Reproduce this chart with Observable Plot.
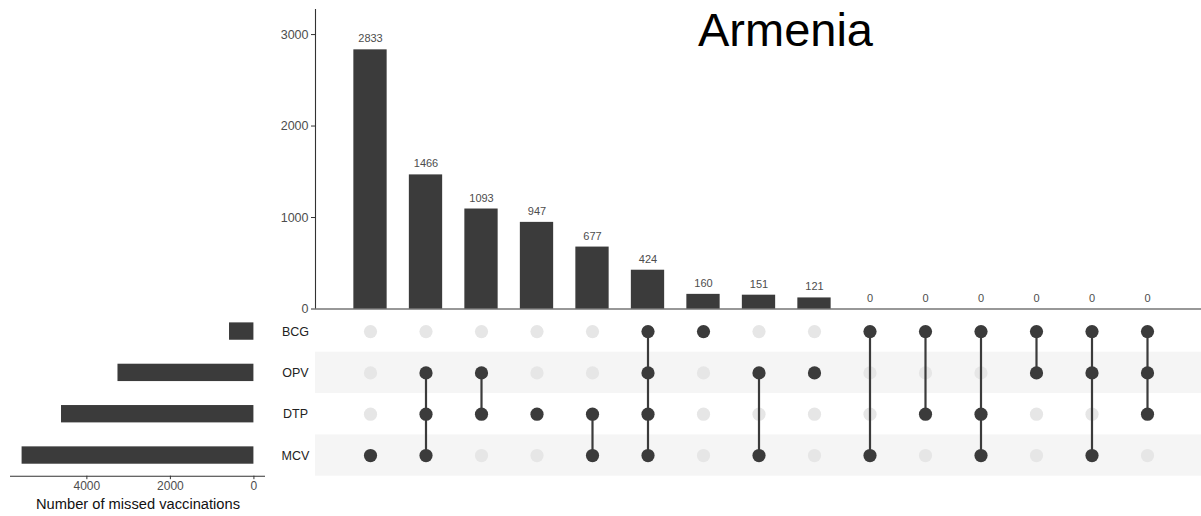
<!DOCTYPE html>
<html>
<head>
<meta charset="utf-8">
<script src="https://cdn.jsdelivr.net/npm/d3@7"></script>
<script src="https://cdn.jsdelivr.net/npm/@observablehq/plot@0.6"></script>
<style>
  html, body { margin: 0; padding: 0; background: #ffffff; }
  #chart { position: relative; width: 1201px; height: 516px; font-family: "Liberation Sans", Arial, sans-serif; }
  #title { position: absolute; top: 6px; left: 785.5px; transform: translateX(-50%); font-size: 47px; line-height: 1; color: #000; white-space: nowrap; }
</style>
</head>
<body>
<div id="chart"><div id="title">Armenia</div></div>
<script>
// ---- data ----
const titleText = "Armenia";
const sets = ["BCG", "OPV", "DTP", "MCV"];
const setSizes = [584, 3255, 4607, 5551];
const counts = [2833, 1466, 1093, 947, 677, 424, 160, 151, 121, 0, 0, 0, 0, 0, 0];
const members = [
  ["MCV"],
  ["OPV", "DTP", "MCV"],
  ["OPV", "DTP"],
  ["DTP"],
  ["DTP", "MCV"],
  ["BCG", "OPV", "DTP", "MCV"],
  ["BCG"],
  ["OPV", "MCV"],
  ["OPV"],
  ["BCG", "MCV"],
  ["BCG", "DTP"],
  ["BCG", "DTP", "MCV"],
  ["BCG", "OPV"],
  ["BCG", "OPV", "MCV"],
  ["BCG", "OPV", "DTP"]
];
const countTicks = [0, 1000, 2000, 3000];
const sizeTicks = [0, 2000, 4000];
const sizeAxisLabel = "Number of missed vaccinations";
const stripeSets = ["OPV", "MCV"];

(function () {
  document.getElementById("title").textContent = titleText;

  // ---- derived tables ----
  const cols = counts.map((c, i) => ({i, count: c}));
  const cells = [];
  members.forEach((m, i) => sets.forEach((s, j) => cells.push({i, row: j, on: m.includes(s)})));
  const links = members.map((m, i) => {
    const rows = m.map(s => sets.indexOf(s));
    return {i, r1: d3.min(rows), r2: d3.max(rows), n: m.length};
  }).filter(d => d.n > 1);
  const setRows = sets.map((s, j) => ({set: s, row: j, size: setSizes[j]}));
  const stripes = stripeSets.map(s => sets.indexOf(s));

  const dark = "#3b3b3b";
  const light = "#e6e6e6";
  const xLo = -0.991, xHi = 14.973;
  const plain = d => String(d);
  const baseStyle = {position: "absolute", left: "0px", top: "0px", background: "transparent", overflow: "visible",
    fontFamily: '"Liberation Sans", Arial, sans-serif', fontSize: "12px", color: "#4d4d4d"};

  const chart = document.getElementById("chart");

  // ---- top: intersection sizes ----
  const barsPlot = Plot.plot({
    width: 1201, height: 516,
    marginLeft: 315, marginRight: 0, marginTop: 9, marginBottom: 207.5,
    style: baseStyle,
    x: {domain: [xLo, xHi], axis: null},
    y: {domain: [0, 3274], axis: null},
    marks: [
      Plot.rect(cols, {x1: d => d.i - 0.3, x2: d => d.i + 0.3, y1: () => 0, y2: d => d.count, fill: dark}),
      Plot.text(cols, {x: "i", y: "count", text: d => String(d.count), dy: -11, fontSize: 11, fill: "#4d4d4d"}),
      Plot.axisY({ticks: countTicks, tickFormat: plain, tickSize: 4, tickPadding: 3, fontSize: 12.5, color: "#4d4d4d", stroke: "#333", label: null}),
      Plot.ruleY([0], {stroke: "#333", strokeWidth: 1.1}),
      Plot.ruleX([xLo], {stroke: "#333", strokeWidth: 1.1})
    ]
  });
  chart.appendChild(barsPlot);

  // ---- matrix ----
  const matrixPlot = Plot.plot({
    width: 1201, height: 516,
    marginLeft: 315, marginRight: 0, marginTop: 310.4, marginBottom: 40.3,
    style: baseStyle,
    x: {domain: [xLo, xHi], axis: null},
    y: {domain: [3.5, -0.5], axis: null},
    marks: [
      Plot.rect(stripes, {x1: () => xLo, x2: () => xHi, y1: r => r - 0.5, y2: r => r + 0.5, fill: "#f5f5f5"}),
      Plot.dot(cells.filter(d => !d.on), {x: "i", y: "row", r: 6.6, fill: light}),
      Plot.ruleX(links, {x: "i", y1: "r1", y2: "r2", stroke: dark, strokeWidth: 2.2}),
      Plot.dot(cells.filter(d => d.on), {x: "i", y: "row", r: 6.6, fill: dark})
    ]
  });
  chart.appendChild(matrixPlot);

  // ---- left: set sizes ----
  const sizesPlot = Plot.plot({
    width: 1201, height: 516,
    marginLeft: 10, marginRight: 936, marginTop: 310.4, marginBottom: 40.3,
    style: baseStyle,
    x: {domain: [5828.5, -277.5], axis: null},
    y: {domain: [3.5, -0.5], axis: null},
    marks: [
      Plot.rect(setRows, {x1: () => 0, x2: d => d.size, y1: d => d.row - 0.21, y2: d => d.row + 0.21, fill: dark}),
      Plot.axisX({anchor: "bottom", ticks: sizeTicks, tickFormat: plain, tickSize: 3.5, tickPadding: 2, fontSize: 12, color: "#4d4d4d", stroke: "#333", label: null}),
      Plot.ruleY([3.5], {stroke: "#333", strokeWidth: 1.1}),
      Plot.text([sizeAxisLabel], {frameAnchor: "bottom", lineAnchor: "middle", dy: 28, text: d => d, fontSize: 14.7, fill: "#111"}),
      Plot.text(setRows, {y: "row", text: "set", frameAnchor: "right", lineAnchor: "middle", dx: 30, textAnchor: "middle", fontSize: 12.5, fill: "#222"})
    ]
  });
  chart.appendChild(sizesPlot);
})();
</script>
</body>
</html>
